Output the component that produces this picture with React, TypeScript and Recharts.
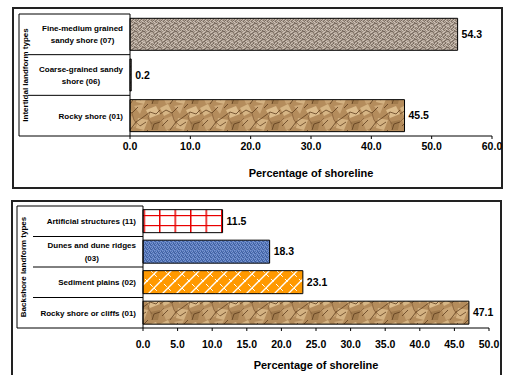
import React from "react";
import { BarChart, Bar, XAxis, YAxis, LabelList, Cell } from "recharts";

// intertidal landform types (top panel), top to bottom
const intertidalTypes = [
  "Fine-medium grained\nsandy shore (07)",
  "Coarse-grained sandy\nshore (06)",
  "Rocky shore (01)",
];
const intertidalShare = [54.3, 0.2, 45.5];
const intertidalTicks = [0, 10, 20, 30, 40, 50, 60];
const intertidalFills = ["url(#sand)", "url(#sand)", "url(#rock)"];

// backshore landform types (bottom panel), top to bottom
const backshoreTypes = [
  "Artificial structures (11)",
  "Dunes and dune ridges\n(03)",
  "Sediment plains  (02)",
  "Rocky shore  or cliffs (01)",
];
const backshoreShare = [11.5, 18.3, 23.1, 47.1];
const backshoreTicks = [0, 5, 10, 15, 20, 25, 30, 35, 40, 45, 50];
const backshoreFills = ["url(#grid)", "url(#blue)", "url(#lattice)", "url(#rock)"];

const FONT = "Arial, 'Liberation Sans', sans-serif";

let measureCtx: CanvasRenderingContext2D | null = null;
const textWidth = (s: string) => {
  if (!measureCtx) measureCtx = document.createElement("canvas").getContext("2d");
  if (!measureCtx) return s.length * 4.4;
  measureCtx.font = `bold 8px ${FONT}`;
  return measureCtx.measureText(s).width;
};

// the category labels sit in a little ruled table left of the bars
const tableTick =
  (band: number, count: number, outerLeft: number, innerLeft: number, lineHeight: number) =>
  (props: any) => {
    const { x, y, payload, index } = props;
    const lines = String(payload.value).split("\n");
    const top = y - band / 2;
    const right = x - 7;
    const widest = Math.max(...lines.map(textWidth));
    const cx = lines.length > 1 ? right - widest / 2 : right;
    const anchor = lines.length > 1 ? "middle" : "end";
    const firstY = y - ((lines.length - 1) * lineHeight) / 2 + 2.9;
    return (
      <g>
        <line x1={index === 0 ? outerLeft : innerLeft} x2={x} y1={top} y2={top} stroke="#000" />
        {index === count - 1 && (
          <line x1={outerLeft} x2={x} y1={top + band} y2={top + band} stroke="#000" />
        )}
        {index === 0 && (
          <line x1={outerLeft} x2={outerLeft} y1={top} y2={top + band * count} stroke="#000" />
        )}
        <text textAnchor={anchor} fontSize={8} fontWeight={700} fill="#000" fontFamily={FONT}>
          {lines.map((l, i) => (
            <tspan key={i} x={cx} y={firstY + i * lineHeight}>
              {l}
            </tspan>
          ))}
        </text>
      </g>
    );
  };

// speckle textures, one shade index per pixel
const sandShades = ["#857769", "#9c8e82", "#ab9d91", "#bcafa3", "#cfc3b7", "#776a60"];
const sandRows = ["20341523", "31205342", "42513024", "13042531", "25310420", "04253143", "31420352", "52134205"];
const blueShades = ["#4a6cb0", "#5f80c2", "#7d98d0", "#3e5e9e"];
const blueRows = ["1021", "2310", "0132", "1203"];

const Speckle = ({ rows, shades }: { rows: string[]; shades: string[] }) => (
  <>
    {rows.map((r, y) =>
      r.split("").map((c, x) => <rect key={`${x}-${y}`} x={x} y={y} width={1} height={1} fill={shades[+c]} />)
    )}
  </>
);

const Patterns = () => (
  <svg width={0} height={0} style={{ position: "absolute" }}>
    <defs>
      <pattern id="sand" width="8" height="8" patternUnits="userSpaceOnUse">
        <Speckle rows={sandRows} shades={sandShades} />
      </pattern>
      <pattern id="rock" width="40" height="26" patternUnits="userSpaceOnUse">
        <rect width="40" height="26" fill="#b48c5c" />
        <polygon points="0,4 8,0 12,8 4,12" fill="#d6b584" />
        <polygon points="14,2 24,0 20,10" fill="#cda97a" />
        <polygon points="26,6 36,2 40,10 30,14" fill="#dcbc8c" />
        <polygon points="2,16 12,12 16,22 6,26" fill="#c9a474" />
        <polygon points="18,14 28,16 24,26 16,24" fill="#d4b282" />
        <polygon points="30,18 40,16 38,26 32,26" fill="#a07a4c" />
        <path
          d="M0,10 L6,6 L12,9 L18,3 M10,26 L16,18 L22,14 L30,8 L36,10 L40,6 M2,22 L8,16 M24,4 L28,0 M32,26 L34,20 L40,18 M20,22 L26,18"
          stroke="#5e3e1e"
          strokeWidth="0.8"
          fill="none"
        />
        <path d="M12,9 L14,16 L20,22 M30,8 L28,14 L32,20 M0,18 L4,14" stroke="#7a5430" strokeWidth="0.6" fill="none" />
      </pattern>
      <pattern id="blue" width="4" height="4" patternUnits="userSpaceOnUse">
        <Speckle rows={blueRows} shades={blueShades} />
      </pattern>
      <pattern id="lattice" width="14" height="14" patternUnits="userSpaceOnUse">
        <rect width="14" height="14" fill="#ff9900" />
        <path d="M-2,16 L16,-2 M-2,2 L2,-2 M12,16 L16,12" stroke="#fff" strokeWidth="1.4" />
        <path d="M0,0 L14,14" stroke="#fff" strokeWidth="1" strokeDasharray="4 3" />
      </pattern>
      <pattern id="grid" x="4" y="5" width="15.5" height="10" patternUnits="userSpaceOnUse">
        <rect width="15.5" height="10" fill="#fff" />
        <line x1="0.75" x2="0.75" y1="0" y2="10" stroke="#e80000" strokeWidth="1.5" />
        <line x1="0" x2="15.5" y1="0.6" y2="0.6" stroke="#e80000" strokeWidth="1.2" />
      </pattern>
    </defs>
  </svg>
);

const tickFmt = (v: number) => v.toFixed(1);
const labelStyle = { fontSize: 11, fontWeight: 700, fill: "#000" };
const tickStyle = { fontSize: 10.5, fontWeight: 700, fill: "#000" };

export default function App() {
  const intertidalData = intertidalTypes.map((name, i) => ({ name, value: intertidalShare[i] }));
  const backshoreData = backshoreTypes.map((name, i) => ({ name, value: backshoreShare[i] }));

  return (
    <div
      style={{
        position: "absolute",
        left: 0,
        top: 0,
        width: 508,
        height: 375,
        overflow: "hidden",
        background: "#fff",
        fontFamily: FONT,
      }}
    >
      <Patterns />
      <div
        style={{
          position: "absolute",
          left: 12,
          top: 7,
          width: 491,
          height: 182,
          border: "2px solid #222",
          boxSizing: "border-box",
        }}
      />
      <div
        style={{
          position: "absolute",
          left: 11,
          top: 200,
          width: 491,
          height: 190,
          border: "2px solid #222",
          boxSizing: "border-box",
        }}
      />

      <div style={{ position: "absolute", left: 0, top: 0 }}>
        <BarChart
          width={508}
          height={190}
          data={intertidalData}
          layout="vertical"
          margin={{ top: 14, right: 16, left: 19, bottom: 14 }}
          barCategoryGap="10.6%"
        >
          <XAxis
            type="number"
            domain={[0, 60]}
            ticks={intertidalTicks}
            tickFormatter={tickFmt}
            height={40}
            tickSize={3}
            tickMargin={4}
            stroke="#000"
            tick={tickStyle}
            label={{ value: "Percentage of shoreline", position: "insideBottom", offset: -1, style: labelStyle }}
          />
          <YAxis
            type="category"
            dataKey="name"
            width={111}
            interval={0}
            tickSize={0}
            tickMargin={0}
            tickLine={false}
            stroke="#000"
            tick={tableTick(122 / 3, 3, 19, 28, 12)}
            label={{
              value: "Intertidal landform types",
              angle: -90,
              position: "insideLeft",
              offset: 6,
              style: { textAnchor: "middle", fontSize: 8, fontWeight: 700, fill: "#000" },
            }}
          />
          <Bar dataKey="value" stroke="#000" strokeWidth={1} isAnimationActive={false}>
            {intertidalData.map((d, i) => (
              <Cell key={d.name} fill={intertidalFills[i]} />
            ))}
            <LabelList dataKey="value" position="right" offset={4} formatter={(v: any) => Number(v).toFixed(1)} style={tickStyle} />
          </Bar>
        </BarChart>
      </div>

      <div style={{ position: "absolute", left: 0, top: 190 }}>
        <BarChart
          width={508}
          height={185}
          data={backshoreData}
          layout="vertical"
          margin={{ top: 16, right: 19, left: 17, bottom: 7 }}
          barCategoryGap="12%"
        >
          <XAxis
            type="number"
            domain={[0, 50]}
            ticks={backshoreTicks}
            tickFormatter={tickFmt}
            height={40}
            tickSize={3}
            tickMargin={10}
            stroke="#000"
            tick={tickStyle}
            label={{ value: "Percentage of shoreline", position: "insideBottom", offset: -1, style: labelStyle }}
          />
          <YAxis
            type="category"
            dataKey="name"
            width={126}
            interval={0}
            tickSize={0}
            tickMargin={0}
            tickLine={false}
            stroke="#000"
            tick={tableTick(122 / 4, 4, 17, 33, 13)}
            label={{
              value: "Backshore landform types",
              angle: -90,
              position: "insideLeft",
              offset: 6,
              style: { textAnchor: "middle", fontSize: 8, fontWeight: 700, fill: "#000" },
            }}
          />
          <Bar dataKey="value" stroke="#000" strokeWidth={1} isAnimationActive={false}>
            {backshoreData.map((d, i) => (
              <Cell key={d.name} fill={backshoreFills[i]} />
            ))}
            <LabelList dataKey="value" position="right" offset={4} formatter={(v: any) => Number(v).toFixed(1)} style={tickStyle} />
          </Bar>
        </BarChart>
      </div>
    </div>
  );
}
